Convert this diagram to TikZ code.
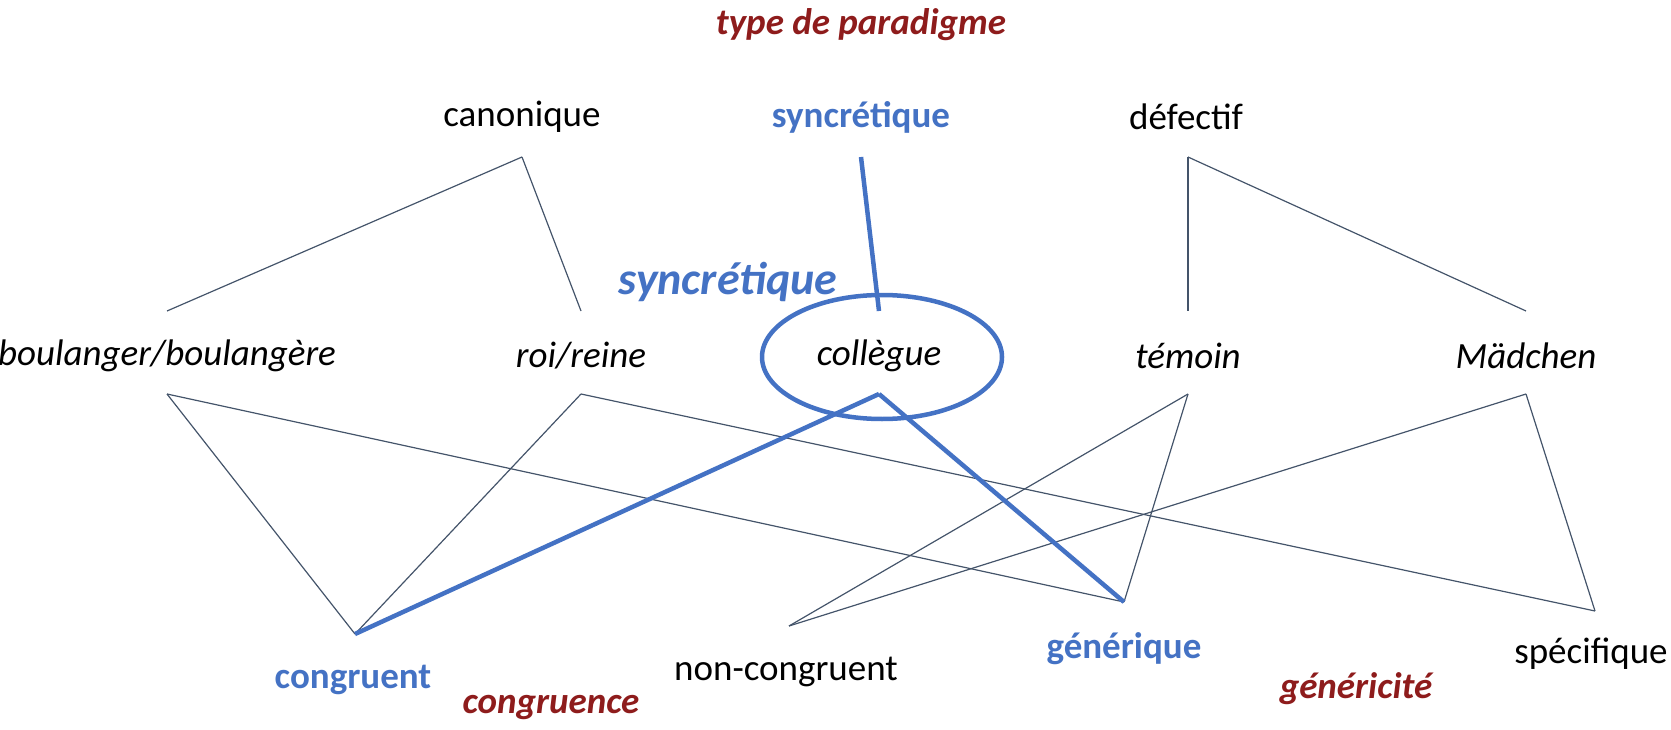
\documentclass[tikz,border=0pt]{standalone}
\usepackage{fontspec}
\setmainfont{Carlito}
\definecolor{synblue}{HTML}{4472C4}
\definecolor{titred}{HTML}{8E1C1C}
\definecolor{edgegray}{HTML}{44546A}
\tikzset{
  word/.style={font=\fontsize{37}{42}\selectfont, inner sep=0pt},
  lex/.style={word, font=\fontsize{37}{42}\selectfont\itshape},
  hit/.style={word, text=synblue, font=\fontsize{37}{42}\selectfont\bfseries},
  dim/.style={word, text=titred, font=\fontsize{37}{42}\selectfont\bfseries\itshape},
  link/.style={draw=edgegray, line width=1.2pt},
  hilink/.style={draw=synblue, line width=4.5pt}
}

\begin{document}
\begin{tikzpicture}[x=1pt,y=-1pt]
\useasboundingbox (0,0) rectangle (1671,730);
% top level
\node[dim] (paradigme) at (861,25) {type de paradigme};
\node[word] (canonique) at (522,117) {canonique};
\node[hit] (syncretique) at (861,117) {syncrétique};
\node[word] (defectif) at (1186,117) {défectif};
% lexemes
\node[lex] (boulanger) at (167,356) {boulanger/boulangère};
\node[lex] (roi) at (581,356) {roi/reine};
\node[lex] (collegue) at (879,356) {collègue};
\node[lex] (temoin) at (1188,356) {témoin};
\node[lex] (madchen) at (1526,356) {Mädchen};
\node[hit, font=\fontsize{46}{50}\selectfont\bfseries\itshape] (syncr2) at (728,282) {syncrétique};
\draw[synblue, line width=4.5pt] (882,357) ellipse (120 and 62);
% bottom level
\node[hit] (congruent) at (353,680) {congruent};
\node[dim] (congruence) at (551,707) {congruence};
\node[word] (noncongruent) at (786,672) {non-congruent};
\node[hit] (generique) at (1124,649) {générique};
\node[dim] (genericite) at (1356,689) {généricité};
\node[word] (specifique) at (1591,654) {spécifique};
% end points
\coordinate (canonique-b) at (522,157);
\coordinate (syncretique-b) at (861,157);
\coordinate (defectif-b) at (1188,157);
\coordinate (boulanger-t) at (167,311);
\coordinate (roi-t) at (581,311);
\coordinate (collegue-t) at (879,311);
\coordinate (temoin-t) at (1188,311);
\coordinate (madchen-t) at (1526,311);
\coordinate (boulanger-b) at (167,394);
\coordinate (roi-b) at (581,394);
\coordinate (collegue-b) at (879,394);
\coordinate (temoin-b) at (1188,394);
\coordinate (madchen-b) at (1526,394);
\coordinate (congruent-t) at (355,634);
\coordinate (noncongruent-t) at (789,626);
\coordinate (generique-t) at (1124,602);
\coordinate (specifique-t) at (1595,611);
% upper links
\path[link] (canonique-b) -- (boulanger-t);
\path[link] (canonique-b) -- (roi-t);
\path[link] (defectif-b) -- (temoin-t);
\path[link] (defectif-b) -- (madchen-t);
\path[hilink] (syncretique-b) -- (collegue-t);
% lower links
\path[link] (boulanger-b) -- (congruent-t);
\path[link] (boulanger-b) -- (generique-t);
\path[link] (roi-b) -- (congruent-t);
\path[link] (roi-b) -- (specifique-t);
\path[link] (temoin-b) -- (noncongruent-t);
\path[link] (temoin-b) -- (generique-t);
\path[link] (madchen-b) -- (noncongruent-t);
\path[link] (madchen-b) -- (specifique-t);
\path[hilink] (collegue-b) -- (congruent-t);
\path[hilink] (collegue-b) -- (generique-t);
\end{tikzpicture}
\end{document}
